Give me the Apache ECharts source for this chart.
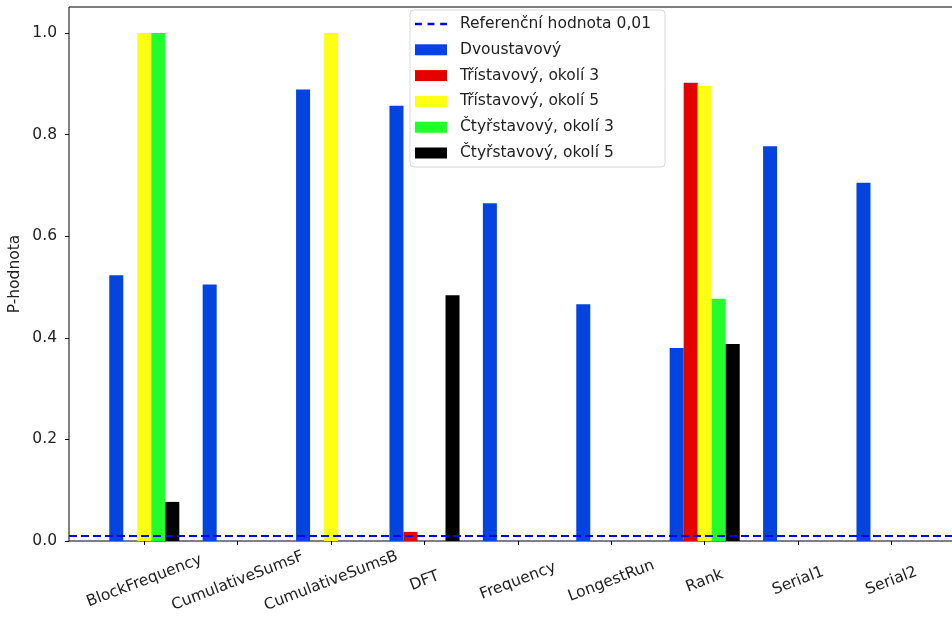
<!DOCTYPE html>
<html>
<head>
<meta charset="utf-8">
<script src="https://cdn.jsdelivr.net/npm/echarts@6/dist/echarts.min.js"></script>
<style>
  html, body { margin: 0; padding: 0; background: #fff; }
  #chart { width: 952px; height: 619px; }
</style>
</head>
<body>
<div id="chart"></div>
<script>
// NIST test names (x categories)
const tests = ['BlockFrequency', 'CumulativeSumsF', 'CumulativeSumsB', 'DFT',
  'Frequency', 'LongestRun', 'Rank', 'Serial1', 'Serial2'];

// P-values per generator variant
const dvoustavovy   = [0.523, 0.505, 0.889, 0.857, 0.665, 0.466, 0.380, 0.777, 0.705];
const tristav3      = [0,     0,     0,     0.018, 0,     0,     0.902, 0,     0];
const tristav5      = [1.0,   0,     1.0,   0,     0,     0,     0.896, 0,     0];
const ctyrstav3     = [1.0,   0,     0,     0,     0,     0,     0.477, 0,     0];
const ctyrstav5     = [0.077, 0,     0,     0.484, 0,     0,     0.388, 0,     0];

const referenceValue = 0.01;

const seriesDefs = [
  { name: 'Dvoustavový', data: dvoustavovy, color: '#0343df' },
  { name: 'Třístavový, okolí 3', data: tristav3, color: '#e50000' },
  { name: 'Třístavový, okolí 5', data: tristav5, color: '#ffff14' },
  { name: 'Čtyřstavový, okolí 3', data: ctyrstav3, color: '#23fc2d' },
  { name: 'Čtyřstavový, okolí 5', data: ctyrstav5, color: '#000000' }
];

const font = 'DejaVu Sans';
const fs = 15.5;
const chart = echarts.init(document.getElementById('chart'), null, { renderer: 'canvas' });

const barSeries = seriesDefs.map(s => ({
  type: 'bar',
  name: s.name,
  xAxisIndex: 0,
  yAxisIndex: 0,
  data: s.data,
  barWidth: '15%',
  barGap: '0%',
  itemStyle: { color: s.color },
  emphasis: { disabled: true },
  animation: false
}));

chart.setOption({
  animation: false,
  textStyle: { fontFamily: font },
  grid: [
    // bar area: category bands
    { left: 97.6, width: 840.6, top: 33, bottom: 78, containLabel: false, outerBoundsMode: 'none' },
    // frame with spines and the reference line
    { left: 69, right: -12, top: 7, bottom: 78, show: true, borderColor: '#000', borderWidth: 1,
      backgroundColor: 'transparent', containLabel: false, outerBoundsMode: 'none' }
  ],
  xAxis: [
    {
      type: 'category', gridIndex: 0, data: tests,
      axisLine: { show: false },
      axisTick: { show: true, alignWithLabel: true, length: 4, lineStyle: { color: '#000' } },
      axisLabel: {
        rotate: 21, margin: 40, align: 'center', verticalAlign: 'middle',
        fontSize: fs, color: '#222', fontFamily: font, interval: 0
      },
      splitLine: { show: false }
    },
    { type: 'value', gridIndex: 1, min: 0, max: 1, show: false }
  ],
  yAxis: [
    {
      type: 'value', gridIndex: 0, min: 0, max: 1, interval: 0.2, offset: 28.6,
      axisLine: { show: false },
      axisTick: { show: true, length: 4, lineStyle: { color: '#000' } },
      axisLabel: {
        fontSize: fs, color: '#222', fontFamily: font, margin: 12,
        formatter: v => v.toFixed(1)
      },
      splitLine: { show: false }
    },
    {
      type: 'value', gridIndex: 1, min: 0, max: 1.0512,
      name: 'P-hodnota', nameLocation: 'middle', nameRotate: 90, nameGap: 46,
      nameTextStyle: { fontSize: fs, color: '#222', fontFamily: font },
      axisLine: { show: false }, axisTick: { show: false }, axisLabel: { show: false },
      splitLine: { show: false }
    }
  ],
  legend: {
    orient: 'vertical',
    left: 410, top: 10,
    padding: [6, 14, 6, 5],
    itemWidth: 32, itemHeight: 11, itemGap: 9.8,
    backgroundColor: 'rgba(255,255,255,0.85)',
    borderColor: '#d8d8d8', borderWidth: 1, borderRadius: 4,
    textStyle: { fontSize: fs, color: '#222', fontFamily: font, lineHeight: 16, padding: [0, 0, 0, 8] },
    data: [
      { name: 'Referenční hodnota 0,01', icon: 'path://M0,5 L6,5 L6,7 L0,7 Z M11,5 L17,5 L17,7 L11,7 Z M22,5 L28,5 L28,7 L22,7 Z', itemStyle: { color: '#0000ff' } },
      ...seriesDefs.map(s => ({ name: s.name, icon: 'rect' }))
    ]
  },
  series: [
    ...barSeries,
    {
      type: 'line',
      name: 'Referenční hodnota 0,01',
      xAxisIndex: 1, yAxisIndex: 1,
      data: [[0, referenceValue], [1, referenceValue]],
      symbol: 'none',
      lineStyle: { color: '#0000ff', width: 2, type: [8, 4] },
      itemStyle: { color: '#0000ff' },
      z: 5,
      silent: true
    }
  ]
});
</script>
</body>
</html>
